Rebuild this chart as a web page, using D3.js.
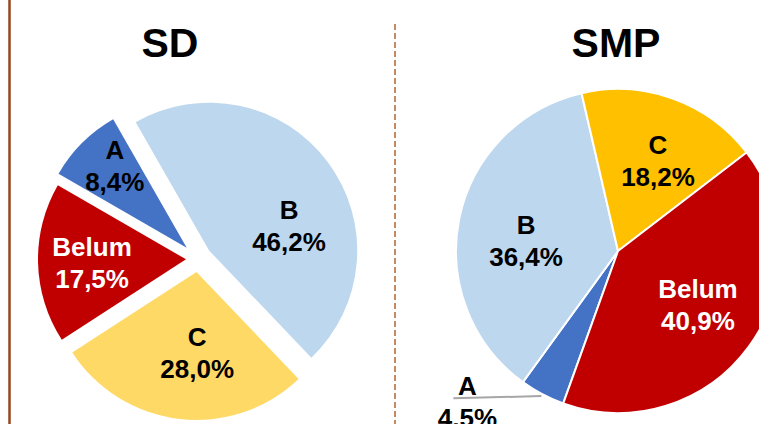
<!DOCTYPE html>
<html>
<head>
<meta charset="utf-8">
<script src="https://cdn.jsdelivr.net/npm/d3@7"></script>
<style>
    body { margin: 0; background: #fff; }
    text { font-family: "Liberation Sans", Arial, sans-serif; font-weight: bold; }
</style>
</head>
<body>
<div id="the_chart"></div>
<script>
// data
var categories = ["A", "B", "C", "Belum"];
var sd_values = [8.4, 46.2, 28.0, 17.5];
var smp_values = [4.5, 36.4, 18.2, 40.9];
var titles = ["SD", "SMP"];

var w = 759;
var h = 424;

var svg = d3.select("#the_chart")
    .append("svg")
    .attr("width", w)
    .attr("height", h);

svg.append("rect")
    .attr("width", w)
    .attr("height", h)
    .attr("fill", "white");

// brown line on the left and dashed divider
svg.append("line")
    .attr("x1", 9.5).attr("x2", 9.5)
    .attr("y1", 0).attr("y2", h)
    .attr("stroke", "#94471f")
    .attr("stroke-width", 2.5);

svg.append("line")
    .attr("x1", 395).attr("x2", 395)
    .attr("y1", 24).attr("y2", h)
    .attr("stroke", "#c28b66")
    .attr("stroke-width", 2)
    .attr("stroke-dasharray", "6,3");

var fmt = function (v) {
    return d3.format(".1f")(v).replace(".", ",") + "%";
};
var deg = Math.PI / 180;

// one config per pie (positions/styles, not data)
var pies = [
    {
        values: sd_values, title: titles[0], cx: 198, cy: 259, r: 148, titleX: 170,
        start: 300, explode: [16, 14, 13, 12], stroke: 0,
        colors: ["#4472c4", "#bdd7ee", "#ffd966", "#c00000"],
        labelR: [109, 83.5, 81, 94], labelNudge: [3.6, 19.6, -7.2, -0.8],
        leader: [false, false, false, false]
    },
    {
        values: smp_values, title: titles[1], cx: 618, cy: 251, r: 162, titleX: 616,
        start: 199.76, explode: [0, 0, 0, 0], stroke: 2,
        colors: ["#4472c4", "#bdd7ee", "#ffc000", "#c00000"],
        labelR: [213.5, 92.5, 98.5, 96.5], labelNudge: [17, -5.3, 4.2, -2.1],
        leader: [true, false, false, false]
    }
];

pies.forEach(function (p) {
    var pie = d3.pie()
        .sort(null)
        .value(function (d) { return d; })
        .startAngle(p.start * deg)
        .endAngle((p.start + 360) * deg);

    var arcs = pie(p.values);

    var arc = d3.arc()
        .innerRadius(0)
        .outerRadius(p.r);

    var g = svg.append("g")
        .attr("transform", "translate(" + p.cx + "," + p.cy + ")");

    // offset of each slice along its bisector
    var shift = function (d, i) {
        var a = (d.startAngle + d.endAngle) / 2;
        return [p.explode[i] * Math.sin(a), -p.explode[i] * Math.cos(a)];
    };

    g.selectAll("path")
        .data(arcs)
        .enter().append("path")
        .attr("d", arc)
        .attr("transform", function (d, i) {
            var s = shift(d, i);
            return "translate(" + s[0] + "," + s[1] + ")";
        })
        .attr("fill", function (d, i) { return p.colors[i]; })
        .attr("stroke", "white")
        .attr("stroke-width", p.stroke)
        .attr("stroke-linejoin", "round");

    // label centre for each slice
    var labelPos = function (d, i) {
        var s = shift(d, i);
        var a = (d.startAngle + d.endAngle) / 2 + p.labelNudge[i] * deg;
        return [s[0] + p.labelR[i] * Math.sin(a), s[1] - p.labelR[i] * Math.cos(a)];
    };

    // leader line for labels outside the pie
    arcs.forEach(function (d, i) {
        if (!p.leader[i]) return;
        var a = (d.startAngle + d.endAngle) / 2;
        var lp = labelPos(d, i);
        g.append("line")
            .attr("x1", (p.r + 2) * Math.sin(a))
            .attr("y1", -(p.r + 2) * Math.cos(a))
            .attr("x2", lp[0] - 14)
            .attr("y2", lp[1] - 4)
            .attr("stroke", "#a6a6a6")
            .attr("stroke-width", 2);
    });

    var labels = g.selectAll(".lbl")
        .data(arcs)
        .enter().append("text")
        .attr("class", "lbl")
        .attr("text-anchor", "middle")
        .attr("font-size", 26)
        .attr("fill", function (d, i) { return categories[i] == "Belum" ? "white" : "black"; });

    labels.append("tspan")
        .attr("x", function (d, i) { return labelPos(d, i)[0]; })
        .attr("y", function (d, i) { return labelPos(d, i)[1] - 7; })
        .text(function (d, i) { return categories[i]; });

    labels.append("tspan")
        .attr("x", function (d, i) { return labelPos(d, i)[0]; })
        .attr("y", function (d, i) { return labelPos(d, i)[1] + 25; })
        .text(function (d) { return fmt(d.data); });

    svg.append("text") // pie title
        .attr("x", p.titleX)
        .attr("y", 57)
        .attr("text-anchor", "middle")
        .attr("font-size", 41)
        .attr("fill", "black")
        .text(p.title);
});
</script>
</body>
</html>
